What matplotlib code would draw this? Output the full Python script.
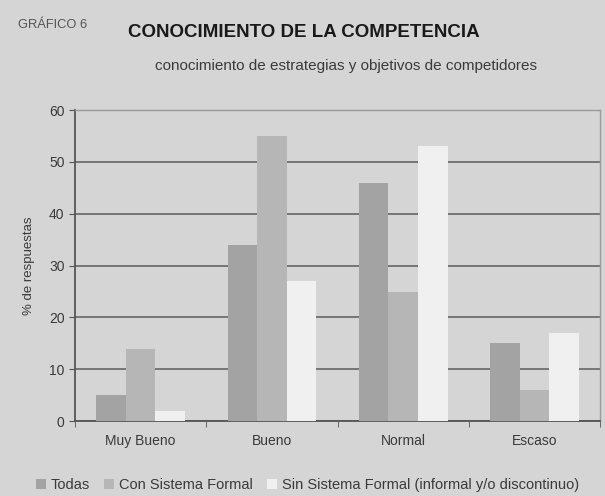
import matplotlib.pyplot as plt
import numpy as np

plt.rcParams['font.family'] = ['Liberation Sans', 'DejaVu Sans']

# data
categorias = ['Muy Bueno', 'Bueno', 'Normal', 'Escaso']
todas = [5, 34, 46, 15]
con_sistema = [14, 55, 25, 6]
sin_sistema = [2, 27, 53, 17]
series = ['Todas', 'Con Sistema Formal', 'Sin Sistema Formal (informal y/o discontinuo)']

bg = '#d5d5d5'
colores = ['#a3a3a3', '#b6b6b6', '#f0f0f0']
txt = '#3a3a3a'

fig = plt.figure(figsize=(6.05, 4.96), dpi=100, facecolor=bg)
ax = fig.add_axes([0.124, 0.151, 0.868, 0.627], facecolor=bg)

x = np.arange(len(categorias))
w = 0.225
for i, (vals, c, lab) in enumerate(zip([todas, con_sistema, sin_sistema], colores, series)):
    ax.bar(x + (i - 1) * w, vals, w, color=c, label=lab, zorder=3)

ax.set_xlim(-0.5, 3.5)
ax.set_ylim(0, 60)
ax.set_yticks(range(0, 61, 10))
ax.yaxis.grid(True, color='#6e6e6e', linewidth=1.3, zorder=1)
ax.set_xticks(x)
ax.set_xticklabels(categorias, fontsize=10, color=txt)
ax.set_xticks(np.arange(-0.5, 4, 1), minor=True)
ax.tick_params(axis='x', which='major', length=0, pad=9)
ax.tick_params(axis='x', which='minor', length=4, direction='out', color='#555555')
ax.tick_params(axis='y', labelsize=10, labelcolor=txt, length=4, color='#555555')
ax.set_ylabel('% de respuestas', fontsize=9.5, color=txt, labelpad=10)

for s in ['left', 'bottom']:
    ax.spines[s].set_color('#555555')
    ax.spines[s].set_linewidth(1.3)
for s in ['top', 'right']:
    ax.spines[s].set_color('#9a9a9a')
    ax.spines[s].set_linewidth(1.0)

fig.text(0.03, 0.95, 'GRÁFICO 6', fontsize=9.3, color='#555555', va='center')
fig.text(0.212, 0.935, 'CONOCIMIENTO DE LA COMPETENCIA', fontsize=13.5,
         fontweight='bold', color='#1a1a1a', va='center')
fig.text(0.256, 0.866, 'conocimiento de estrategias y objetivos de competidores',
         fontsize=11, color=txt, va='center')

fig.legend(loc='center', bbox_to_anchor=(0.508, 0.022), ncol=3, frameon=False,
           fontsize=10.5, handlelength=0.7, handleheight=0.7, handletextpad=0.3,
           columnspacing=1.0, labelcolor=txt)

fig.savefig('out.png', dpi=100, facecolor=bg)
